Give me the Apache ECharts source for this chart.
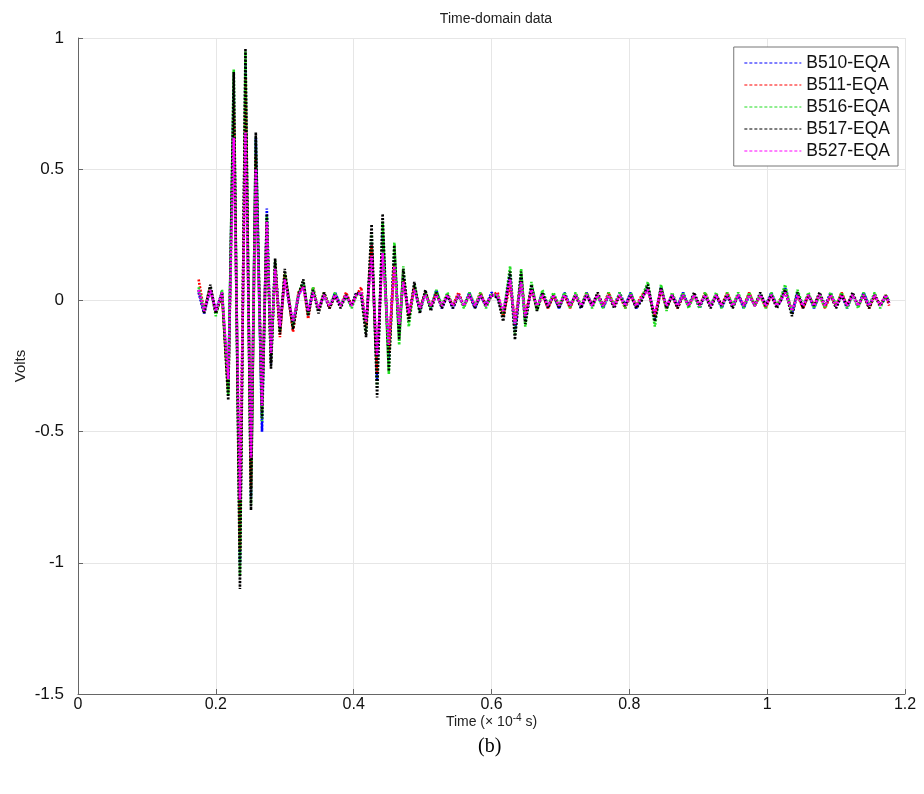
<!DOCTYPE html>
<html>
<head>
<meta charset="utf-8">
<script src="https://cdn.jsdelivr.net/npm/echarts@6/dist/echarts.min.js"></script>
<style>
html,body{margin:0;padding:0;background:#fff;}
#chart{width:924px;height:794px;}
</style>
</head>
<body>
<div id="chart"></div>
<script>
// Time (x 1e-4 s)
var time = [
0.175, 0.183, 0.192, 0.200, 0.209, 0.218, 0.226, 0.235, 0.243, 0.251,
0.258, 0.267, 0.274, 0.280, 0.286, 0.293, 0.300, 0.306, 0.312, 0.320,
0.327, 0.334, 0.341, 0.349, 0.357, 0.365, 0.373, 0.381, 0.389, 0.397,
0.404, 0.411, 0.418, 0.426, 0.434, 0.442, 0.451, 0.459, 0.466, 0.472,
0.480, 0.488, 0.496, 0.504, 0.512, 0.520, 0.528, 0.536, 0.544, 0.552,
0.560, 0.568, 0.576, 0.584, 0.592, 0.600, 0.609, 0.617, 0.627, 0.634,
0.643, 0.649, 0.658, 0.666, 0.674, 0.682, 0.690, 0.698, 0.706, 0.714,
0.722, 0.730, 0.738, 0.746, 0.754, 0.762, 0.770, 0.778, 0.786, 0.794,
0.802, 0.810, 0.818, 0.827, 0.837, 0.846, 0.854, 0.862, 0.870, 0.878,
0.886, 0.894, 0.902, 0.910, 0.918, 0.926, 0.934, 0.942, 0.950, 0.958,
0.966, 0.974, 0.982, 0.990, 0.998, 1.006, 1.014, 1.020, 1.026, 1.036,
1.044, 1.052, 1.060, 1.068, 1.076, 1.084, 1.092, 1.100, 1.108, 1.116,
1.124, 1.132, 1.140, 1.148, 1.156, 1.164, 1.172, 1.177
];

var b510 = [
0.03, -0.05, 0.04, -0.04, 0.03, -0.33, 0.80, -1.00, 0.90, -0.75,
0.62, -0.50, 0.35, -0.24, 0.14, -0.11, 0.09, -0.01, -0.09, 0.02,
0.06, -0.05, 0.04, -0.03, 0.02, -0.03, 0.03, -0.02, 0.02, -0.02,
0.03, 0.02, -0.10, 0.22, -0.30, 0.26, -0.22, 0.17, -0.12, 0.09,
-0.06, 0.05, -0.04, 0.03, -0.03, 0.04, -0.03, 0.02, -0.03, 0.02,
-0.02, 0.03, -0.03, 0.02, -0.02, 0.03, 0.01, -0.05, 0.10, -0.12,
0.09, -0.08, 0.05, -0.03, 0.03, -0.02, 0.02, -0.03, 0.03, -0.02,
0.02, -0.03, 0.03, -0.02, 0.02, -0.03, 0.02, -0.02, 0.03, -0.02,
0.03, -0.03, 0.01, 0.05, -0.07, 0.05, -0.03, 0.02, -0.02, 0.03,
-0.02, 0.02, -0.03, 0.02, -0.02, 0.02, -0.03, 0.02, -0.02, 0.02,
-0.03, 0.02, -0.02, 0.02, -0.02, 0.03, -0.02, 0.00, 0.05, -0.05,
0.03, -0.02, 0.02, -0.03, 0.02, -0.02, 0.03, -0.02, 0.02, -0.03,
0.02, -0.02, 0.03, -0.02, 0.02, -0.02, 0.01, 0.00
];

var b511 = [
0.08, -0.04, 0.05, -0.05, 0.02, -0.35, 0.76, -0.95, 0.85, -0.72,
0.55, -0.42, 0.30, -0.24, 0.14, -0.14, 0.10, 0.00, -0.12, 0.03,
0.06, -0.07, 0.05, -0.04, 0.03, -0.03, 0.02, -0.02, 0.03, -0.02,
0.02, 0.05, -0.10, 0.21, -0.28, 0.23, -0.20, 0.14, -0.10, 0.08,
-0.06, 0.05, -0.03, 0.03, -0.02, 0.03, -0.02, 0.02, -0.02, 0.03,
-0.02, 0.02, -0.02, 0.03, -0.02, 0.02, 0.03, -0.06, 0.06, -0.08,
0.08, -0.05, 0.04, -0.03, 0.02, -0.03, 0.02, -0.02, 0.02, -0.03,
0.02, -0.02, 0.03, -0.02, 0.02, -0.02, 0.03, -0.02, 0.02, -0.03,
0.02, -0.02, 0.02, 0.04, -0.06, 0.04, -0.03, 0.02, -0.03, 0.02,
-0.02, 0.02, -0.02, 0.03, -0.02, 0.02, -0.02, 0.03, -0.02, 0.02,
-0.02, 0.03, -0.02, 0.02, -0.03, 0.02, -0.02, 0.01, 0.04, -0.04,
0.02, -0.03, 0.02, -0.02, 0.02, -0.03, 0.02, -0.02, 0.03, -0.02,
0.02, -0.02, 0.02, -0.03, 0.02, -0.02, 0.02, -0.02
];

var b516 = [
0.05, -0.04, 0.05, -0.06, 0.04, -0.36, 0.88, -1.05, 0.95, -0.78,
0.62, -0.46, 0.32, -0.24, 0.15, -0.12, 0.10, 0.01, -0.10, 0.03,
0.07, -0.05, 0.05, -0.04, 0.03, -0.02, 0.03, -0.02, 0.02, -0.03,
0.02, 0.03, -0.12, 0.25, -0.33, 0.30, -0.28, 0.22, -0.17, 0.13,
-0.10, 0.06, -0.04, 0.03, -0.03, 0.04, -0.02, 0.03, -0.02, 0.02,
-0.03, 0.03, -0.02, 0.03, -0.03, 0.02, 0.02, -0.06, 0.13, -0.13,
0.12, -0.10, 0.07, -0.04, 0.04, -0.02, 0.03, -0.02, 0.03, -0.03,
0.03, -0.02, 0.03, -0.03, 0.02, -0.03, 0.03, -0.02, 0.03, -0.03,
0.03, -0.02, 0.01, 0.07, -0.10, 0.06, -0.04, 0.03, -0.02, 0.03,
-0.03, 0.02, -0.03, 0.03, -0.02, 0.03, -0.03, 0.03, -0.02, 0.03,
-0.03, 0.03, -0.02, 0.02, -0.03, 0.03, -0.02, 0.01, 0.06, -0.05,
0.04, -0.02, 0.03, -0.03, 0.02, -0.03, 0.03, -0.02, 0.03, -0.03,
0.02, -0.03, 0.03, -0.02, 0.03, -0.03, 0.02, 0.00
];

var b517 = [
0.04, -0.05, 0.06, -0.05, 0.03, -0.38, 0.87, -1.10, 0.96, -0.80,
0.64, -0.45, 0.33, -0.26, 0.16, -0.13, 0.12, 0.00, -0.11, 0.02,
0.08, -0.06, 0.04, -0.05, 0.03, -0.03, 0.02, -0.03, 0.02, -0.02,
0.03, 0.02, -0.14, 0.29, -0.37, 0.33, -0.27, 0.21, -0.15, 0.12,
-0.08, 0.07, -0.05, 0.04, -0.04, 0.03, -0.03, 0.02, -0.03, 0.02,
-0.02, 0.02, -0.03, 0.02, -0.02, 0.02, 0.01, -0.08, 0.11, -0.15,
0.11, -0.09, 0.06, -0.04, 0.03, -0.03, 0.02, -0.03, 0.02, -0.02,
0.02, -0.03, 0.02, -0.02, 0.03, -0.02, 0.02, -0.03, 0.02, -0.02,
0.02, -0.03, 0.00, 0.06, -0.08, 0.05, -0.03, 0.02, -0.03, 0.02,
-0.02, 0.03, -0.02, 0.02, -0.03, 0.02, -0.02, 0.02, -0.03, 0.02,
-0.02, 0.02, -0.02, 0.03, -0.02, 0.02, -0.03, 0.00, 0.04, -0.06,
0.03, -0.03, 0.02, -0.02, 0.03, -0.02, 0.02, -0.03, 0.02, -0.02,
0.03, -0.02, 0.02, -0.03, 0.02, -0.02, 0.02, -0.01
];

var b527 = [
0.04, -0.04, 0.04, -0.04, 0.03, -0.30, 0.62, -0.76, 0.64, -0.60,
0.50, -0.40, 0.30, -0.20, 0.12, -0.10, 0.08, 0.00, -0.08, 0.02,
0.05, -0.04, 0.03, -0.03, 0.02, -0.02, 0.02, -0.02, 0.02, -0.02,
0.02, 0.03, -0.08, 0.17, -0.21, 0.18, -0.17, 0.13, -0.09, 0.07,
-0.05, 0.04, -0.03, 0.02, -0.02, 0.02, -0.02, 0.02, -0.02, 0.02,
-0.02, 0.02, -0.02, 0.02, -0.02, 0.02, 0.02, -0.04, 0.08, -0.09,
0.07, -0.06, 0.04, -0.02, 0.02, -0.02, 0.02, -0.02, 0.02, -0.02,
0.02, -0.02, 0.02, -0.02, 0.02, -0.02, 0.02, -0.02, 0.02, -0.02,
0.02, -0.02, 0.01, 0.04, -0.05, 0.04, -0.02, 0.02, -0.02, 0.02,
-0.02, 0.02, -0.02, 0.02, -0.02, 0.02, -0.02, 0.02, -0.02, 0.02,
-0.02, 0.02, -0.02, 0.02, -0.02, 0.02, -0.02, 0.00, 0.03, -0.04,
0.02, -0.02, 0.02, -0.02, 0.02, -0.02, 0.02, -0.02, 0.02, -0.02,
0.02, -0.02, 0.02, -0.02, 0.02, -0.02, 0.02, -0.01
];

var seriesNames = ['B510-EQA', 'B511-EQA', 'B516-EQA', 'B517-EQA', 'B527-EQA'];
var seriesValues = [b510, b511, b516, b517, b527];
var seriesColors = ['#0000ff', '#ff0000', '#22dd22', '#000000', '#ff00ff'];

var xTicks = { min: 0, max: 1.2, interval: 0.2 };
var yTicks = { min: -1.5, max: 1, interval: 0.5 };

function pairs(vals) {
  var out = [];
  for (var i = 0; i < time.length; i++) out.push([time[i], vals[i]]);
  return out;
}

var chart = echarts.init(document.getElementById('chart'), null, { renderer: 'canvas' });
var FONT = 'Liberation Sans, Arial, sans-serif';

var series = seriesNames.map(function (n, i) {
  return {
    name: n,
    type: 'line',
    data: pairs(seriesValues[i]),
    showSymbol: false,
    symbol: 'none',
    animation: false,
    lineStyle: { color: seriesColors[i], width: 2.6, type: [2, 1.5] },
    itemStyle: { color: seriesColors[i] }
  };
});

chart.setOption({
  backgroundColor: '#fff',
  animation: false,
  title: {
    text: 'Time-domain data',
    left: 491, top: 7, textAlign: 'center',
    textStyle: { fontFamily: FONT, fontSize: 14, fontWeight: 'normal', color: '#222' }
  },
  grid: { left: 78, right: 19, top: 38, bottom: 100 },
  legend: {
    orient: 'vertical',
    right: 26, top: 47,
    backgroundColor: '#fff',
    borderColor: '#777', borderWidth: 1,
    padding: [7, 8, 6, 10],
    itemWidth: 57, itemHeight: 14, itemGap: 4,
    data: seriesNames,
    itemStyle: { opacity: 0 },
    lineStyle: { type: [3, 2], width: 1.2 },
    textStyle: { fontFamily: FONT, fontSize: 17.5, lineHeight: 18, color: '#111' }
  },
  xAxis: {
    type: 'value',
    min: xTicks.min, max: xTicks.max, interval: xTicks.interval,
    name: 'Time (\u00d7 10{sup|-4} s)',
    nameLocation: 'middle', nameGap: 19, nameMoveOverlap: false,
    nameTextStyle: {
      fontFamily: FONT, fontSize: 14, color: '#222',
      rich: { sup: { fontFamily: FONT, fontSize: 10, verticalAlign: 'top', padding: [0, 0, 8, 0], color: '#222' } }
    },
    axisLine: { onZero: false, lineStyle: { color: '#666', width: 1 } },
    axisTick: { inside: true, length: 5, lineStyle: { color: '#666' } },
    axisLabel: { fontFamily: FONT, fontSize: 16, color: '#111', margin: 3,
      formatter: function (v) { return String(+v.toFixed(1)); } },
    splitLine: { show: true, lineStyle: { color: '#e6e6e6', width: 1 } }
  },
  yAxis: {
    type: 'value',
    min: yTicks.min, max: yTicks.max, interval: yTicks.interval,
    name: 'Volts',
    nameLocation: 'middle', nameGap: 50, nameRotate: 90, nameMoveOverlap: false,
    nameTextStyle: { fontFamily: FONT, fontSize: 15, color: '#222' },
    axisLine: { show: true, onZero: false, lineStyle: { color: '#666', width: 1 } },
    axisTick: { show: true, inside: true, length: 5, lineStyle: { color: '#666' } },
    axisLabel: { fontFamily: FONT, fontSize: 17, color: '#111', margin: 14,
      formatter: function (v) { return String(+v.toFixed(1)); } },
    splitLine: { show: true, lineStyle: { color: '#e6e6e6', width: 1 } }
  },
  graphic: [{
    type: 'text', left: 478, top: 737,
    style: { text: '(b)', font: '20px "Liberation Serif", "Times New Roman", serif', fill: '#000' }
  }],
  series: series
});
</script>
</body>
</html>
